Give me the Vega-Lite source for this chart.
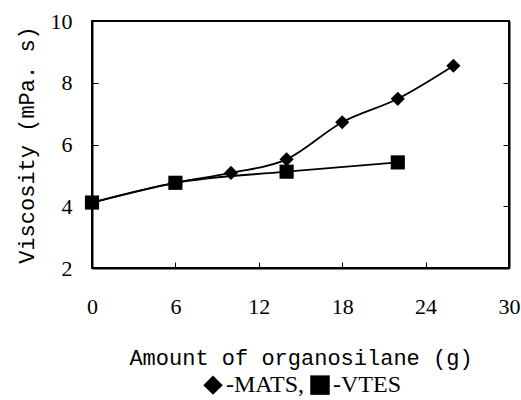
{
  "$schema": "https://vega.github.io/schema/vega-lite/v6.json",
  "width": 417,
  "height": 247,
  "autosize": {"type": "none"},
  "padding": {"left": 92, "top": 21, "right": 12, "bottom": 132},
  "background": "white",
  "config": {
    "view": {"stroke": "black", "strokeWidth": 2},
    "axis": {"grid": false, "domainColor": "black", "domainWidth": 2, "tickColor": "black", "labelColor": "black", "titleColor": "black"},
    "legend": {"layout": {"bottom": {"anchor": "middle"}}}
  },
  "resolve": {"axis": {"y": "independent"}},
  "data": {
    "values": [
      {"amount": 0, "viscosity": 4.12, "series": "MATS"},
      {"amount": 6, "viscosity": 4.76, "series": "MATS"},
      {"amount": 10, "viscosity": 5.08, "series": "MATS"},
      {"amount": 14, "viscosity": 5.52, "series": "MATS"},
      {"amount": 18, "viscosity": 6.72, "series": "MATS"},
      {"amount": 22, "viscosity": 7.48, "series": "MATS"},
      {"amount": 26, "viscosity": 8.55, "series": "MATS"},
      {"amount": 0, "viscosity": 4.12, "series": "VTES"},
      {"amount": 6, "viscosity": 4.76, "series": "VTES"},
      {"amount": 14, "viscosity": 5.12, "series": "VTES"},
      {"amount": 22, "viscosity": 5.42, "series": "VTES"}
    ]
  },
  "encoding": {
    "x": {
      "field": "amount", "type": "quantitative",
      "scale": {"domain": [0, 30], "nice": false},
      "axis": {"values": [0, 6, 12, 18, 24, 30], "title": "Amount of organosilane (g)", "titleFont": "Liberation Mono", "titleFontSize": 22, "titleFontWeight": "normal", "titlePadding": 30, "labelFont": "Liberation Serif", "labelFontSize": 22, "labelPadding": 34, "tickSize": -6, "tickWidth": 1, "labelFlush": false}
    }
  },
  "layer": [
    {
      "mark": {"type": "line", "interpolate": "monotone", "color": "black", "strokeWidth": 1.8},
      "encoding": {
        "detail": {"field": "series"},
        "y": {
          "field": "viscosity", "type": "quantitative",
          "scale": {"domain": [2, 10], "nice": false},
          "axis": {"values": [2, 4, 6, 8, 10], "title": "Viscosity (mPa. s)", "titleFont": "Liberation Mono", "titleFontSize": 22, "titleFontWeight": "normal", "titlePadding": 12, "labelFont": "Liberation Serif", "labelFontSize": 22, "labelPadding": 26, "tickSize": -6, "tickWidth": 1}
        }
      }
    },
    {
      "mark": {"type": "point", "filled": true, "opacity": 1, "color": "black"},
      "encoding": {
        "y": {
          "field": "viscosity", "type": "quantitative",
          "axis": {"orient": "right", "values": [2, 4, 6, 8, 10], "title": null, "labels": false, "tickSize": -6, "tickWidth": 1}
        },
        "shape": {
          "field": "series", "type": "nominal",
          "scale": {"domain": ["MATS", "VTES"], "range": ["diamond", "square"]},
          "legend": {"orient": "bottom", "direction": "horizontal", "title": null, "labelFont": "Liberation Serif", "labelFontSize": 24, "labelExpr": "datum.label == 'MATS' ? '-MATS,' : '-VTES'", "symbolSize": 380, "symbolFillColor": "black", "symbolStrokeColor": "black", "symbolOpacity": 1, "labelOffset": 1, "columnPadding": 2, "offset": 5}
        },
        "size": {"value": 200}
      }
    }
  ]
}
